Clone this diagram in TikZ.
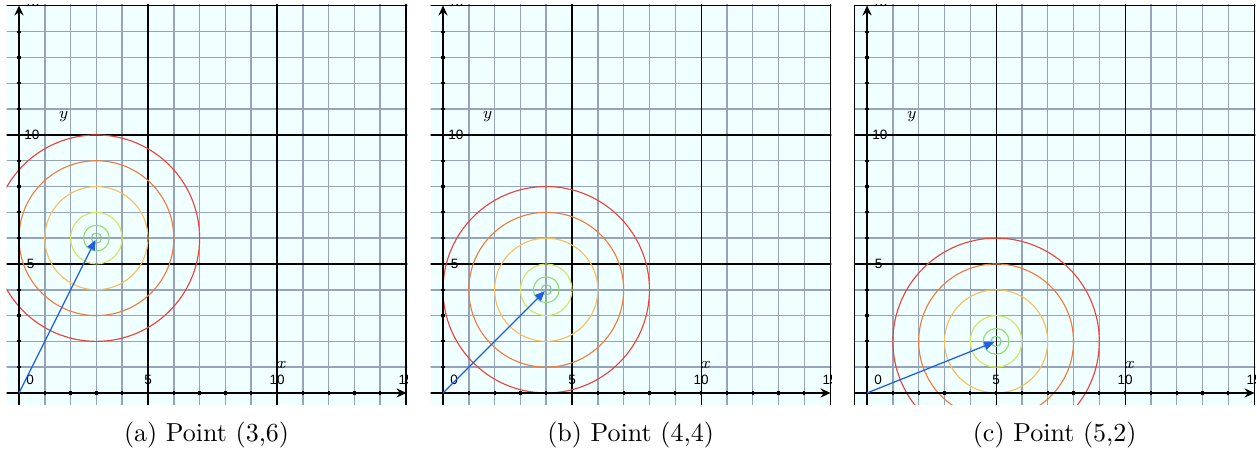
\documentclass[tikz,border=0pt]{standalone}
\usepackage{fontspec}
\newfontfamily\tickfont{Liberation Sans}
\usepackage{xcolor}
\usepackage{tikz}
\usetikzlibrary{arrows.meta}

\definecolor{bgcyan}{HTML}{F0FFFF}
\definecolor{gridblue}{RGB}{150,163,188}
\definecolor{ringr}{HTML}{E8443A}
\definecolor{ringo}{HTML}{EE7D3C}
\definecolor{ringy}{HTML}{F5C15A}
\definecolor{ringl}{HTML}{D6E65C}
\definecolor{ringg}{HTML}{92DC6C}
\definecolor{ringc}{HTML}{7CD486}
\definecolor{vecblue}{HTML}{1E5FE6}

\begin{document}
\begin{tikzpicture}[
  x=10.32pt, y=10.32pt,
  gridline/.style={gridblue,line width=0.6pt},
  majorline/.style={black,line width=0.45pt},
  axisline/.style={black,line width=0.85pt,-{Stealth[length=4pt,width=3.6pt]}},
  tickmark/.style={black,line width=0.9pt},
  ring/.style={line width=0.45pt},
  ticklab/.style={font=\tickfont\fontsize{5.4}{6}\selectfont,inner sep=0pt},
  axlab/.style={font=\fontsize{6.5}{7}\selectfont\itshape,inner sep=0pt},
  vec/.style={draw=vecblue,line width=0.5pt,shorten >=0.8pt,
    -{Triangle[length=4pt,width=3.4pt]}},
  caption/.style={font=\fontsize{10.4}{12}\selectfont,inner sep=0pt}
]
\useasboundingbox (-0.736,-2.287) rectangle (47.98,15.23);

\foreach \i/\cx/\cy/\lab in {0/3/6/a,1/4/4/b,2/5/2/c}{
  \begin{scope}[shift={(\i*16.434,0)}]
    \begin{scope}
      \clip (-0.48,-0.46) rectangle (15.05,15.05);
      \fill[bgcyan] (-0.48,-0.46) rectangle (15.05,15.05);
      \foreach \k in {1,2,3,4,6,7,8,9,11,12,13,14}{
        \draw[gridline] (\k,-0.5) -- (\k,15.1);
        \draw[gridline] (-0.5,\k) -- (15.1,\k);
      }
      \foreach \k in {5,10,15}{
        \draw[majorline] (\k,-0.5) -- (\k,15.1);
        \draw[majorline] (-0.5,\k) -- (15.1,\k);
      }
      % level curves round the point
      \draw[ring,ringr] (\cx,\cy) circle (4);
      \draw[ring,ringo] (\cx,\cy) circle (3);
      \draw[ring,ringy] (\cx,\cy) circle (2);
      \draw[ring,ringl] (\cx,\cy) circle (1);
      \draw[ring,ringg] (\cx,\cy) circle (0.5);
      \draw[ring,ringc] (\cx,\cy) circle (0.2);
      % axes
      \draw[axisline] (-0.5,0) -- (15.02,0);
      \draw[axisline] (0,-0.5) -- (0,15.02);
      \foreach \k in {1,...,14}{
        \draw[tickmark] (\k,-0.07) -- (\k,0.07);
        \draw[tickmark] (-0.07,\k) -- (0.07,\k);
      }
      \node[ticklab] (x0\lab) at (0.43,0.52) {0};
      \node[ticklab] (x5\lab) at (5,0.52) {5};
      \node[ticklab] (x10\lab) at (10,0.52) {10};
      \node[ticklab] (x15\lab) at (15,0.52) {15};
      \node[ticklab] (y5\lab) at (0.45,5) {5};
      \node[ticklab] (y10\lab) at (0.5,10) {10};
      \node[ticklab] (y15\lab) at (0.5,15.15) {15};
      \node[axlab] (xl\lab) at (10.15,1.08) {x};
      \node[axlab] (yl\lab) at (1.7,10.7) {y};
    \end{scope}
    \coordinate (o\lab) at (0,0);
    \coordinate (p\lab) at (\cx,\cy);
    \draw[vec] (o\lab) -- (p\lab);
    \node[caption] (cap\lab) at (7.27,-1.63) {(\lab) Point (\cx,\cy)};
  \end{scope}
}
\draw[majorline] (2*16.434-0.48,-0.46) -- (2*16.434-0.48,15.05);
\end{tikzpicture}
\end{document}
